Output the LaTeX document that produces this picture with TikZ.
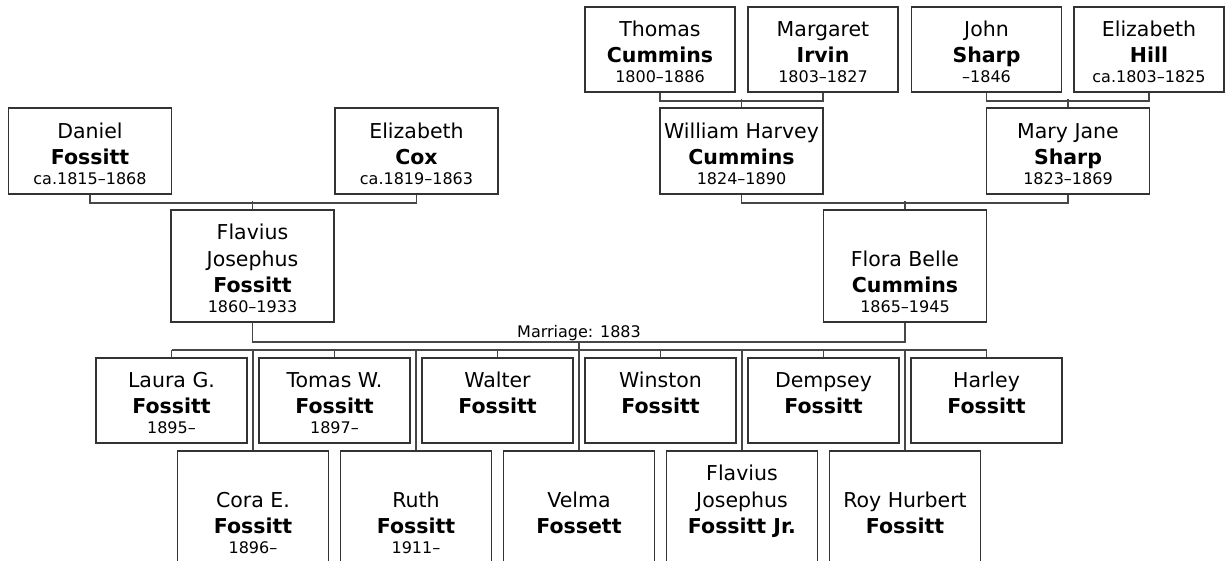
\documentclass[tikz,border=0pt]{standalone}
\usepackage{fontspec}
\setmainfont{DejaVu Sans}
\usetikzlibrary{positioning}

\newcommand{\yrs}[1]{{\fontsize{16}{20}\selectfont\strut#1}}

\begin{document}
\begin{tikzpicture}[
    x=1pt, y=-1pt,
    person/.style={rectangle, draw=black!80, line width=1.9pt, inner sep=0pt},
    ggparent/.style={person, minimum width=150, minimum height=85},
    gparent/.style={person, minimum width=163, minimum height=86},
    parent/.style={person, minimum width=163, minimum height=112},
    child/.style={person, minimum width=151, minimum height=85},
    childlow/.style={person, minimum width=151, minimum height=112},
    who/.style={anchor=south, yshift=4pt, align=center, inner sep=0pt, font=\fontsize{20.5}{26.5}\selectfont},
    link/.style={draw=black!72, line width=1.8pt},
    note/.style={font=\fontsize{16}{20}\selectfont, inner sep=0pt},
]
\useasboundingbox (0,0) rectangle (1227,561);
\fill[white] (0,0) rectangle (1227,561);
\clip (0,0) rectangle (1227,561);

% Great-grandparents
\node[ggparent, label={[who]south:Thomas\\\textbf{Cummins}\\[-6.5pt]\yrs{1800–1886}}] (tcummins) at (660, 49.5) {};
\node[ggparent, label={[who]south:Margaret\\\textbf{Irvin}\\[-6.5pt]\yrs{1803–1827}}] (mirvin) at (823, 49.5) {};
\node[ggparent, label={[who]south:John\\\textbf{Sharp}\\[-6.5pt]\yrs{–1846}}] (jsharp) at (986.5, 49.5) {};
\node[ggparent, label={[who]south:Elizabeth\\\textbf{Hill}\\[-6.5pt]\yrs{ca.1803–1825}}] (ehill) at (1149, 49.5) {};

% Grandparents
\node[gparent, label={[who]south:Daniel\\\textbf{Fossitt}\\[-6.5pt]\yrs{ca.1815–1868}}] (dfossitt) at (90, 151) {};
\node[gparent, label={[who]south:Elizabeth\\\textbf{Cox}\\[-6.5pt]\yrs{ca.1819–1863}}] (ecox) at (416.5, 151) {};
\node[gparent, label={[who]south:William Harvey\\\textbf{Cummins}\\[-6.5pt]\yrs{1824–1890}}] (wcummins) at (741.5, 151) {};
\node[gparent, label={[who]south:Mary Jane\\\textbf{Sharp}\\[-6.5pt]\yrs{1823–1869}}] (msharp) at (1068, 151) {};

% Parents
\node[parent, label={[who]south:Flavius\\Josephus\\\textbf{Fossitt}\\[-6.5pt]\yrs{1860–1933}}] (flavius) at (252.5, 266) {};
\node[parent, label={[who]south:Flora Belle\\\textbf{Cummins}\\[-6.5pt]\yrs{1865–1945}}] (flora) at (905, 266) {};

% Children, upper row
\node[child, label={[who]south:Laura G.\\\textbf{Fossitt}\\[-6.5pt]\yrs{1895–}}] (laura) at (171.5, 400.5) {};
\node[child, label={[who]south:Tomas W.\\\textbf{Fossitt}\\[-6.5pt]\yrs{1897–}}] (tomas) at (334.5, 400.5) {};
\node[child, label={[who]south:Walter\\\textbf{Fossitt}\\[-6.5pt]\yrs{}}] (walter) at (497.5, 400.5) {};
\node[child, label={[who]south:Winston\\\textbf{Fossitt}\\[-6.5pt]\yrs{}}] (winston) at (660.5, 400.5) {};
\node[child, label={[who]south:Dempsey\\\textbf{Fossitt}\\[-6.5pt]\yrs{}}] (dempsey) at (823.5, 400.5) {};
\node[child, label={[who]south:Harley\\\textbf{Fossitt}\\[-6.5pt]\yrs{}}] (harley) at (986.5, 400.5) {};

% Children, lower row
\node[childlow, label={[who]south:Cora E.\\\textbf{Fossitt}\\[-6.5pt]\yrs{1896–}}] (cora) at (253, 507) {};
\node[childlow, label={[who]south:Ruth\\\textbf{Fossitt}\\[-6.5pt]\yrs{1911–}}] (ruth) at (416, 507) {};
\node[childlow, label={[who]south:Velma\\\textbf{Fossett}\\[-6.5pt]\yrs{}}] (velma) at (579, 507) {};
\node[childlow, label={[who]south:Flavius\\Josephus\\\textbf{Fossitt Jr.}\\[-6.5pt]\yrs{}}] (flaviusjr) at (742, 507) {};
\node[childlow, label={[who]south:Roy Hurbert\\\textbf{Fossitt}\\[-6.5pt]\yrs{}}] (roy) at (905, 507) {};

% Parent links
\draw[link] (tcummins.south) -- ++(0,8) -| (mirvin.south);
\draw[link] (wcummins.north) -- ++(0,-8);
\draw[link] (jsharp.south) -- ++(0,8) -| (ehill.south);
\draw[link] (msharp.north) -- ++(0,-8);
\draw[link] (dfossitt.south) -- ++(0,8) -| (ecox.south);
\draw[link] (flavius.north) -- ++(0,-8);
\draw[link] (wcummins.south) -- ++(0,8) -| (msharp.south);
\draw[link] (flora.north) -- ++(0,-8);

% Marriage and children
\coordinate (wed) at (579, 342);
\coordinate (bus) at (579, 350);
\draw[link] (flavius.south) |- (wed) -| (flora.south);
\draw[link] (wed) -- (bus);
\node[note, above=1pt of wed] (wedlabel) {Marriage: 1883};
\draw[link] (laura.north |- bus) -- (harley.north |- bus);
\foreach \kid in {laura, tomas, walter, winston, dempsey, harley, cora, ruth, velma, flaviusjr, roy}
  \draw[link] (\kid.north |- bus) -- (\kid.north);

\end{tikzpicture}
\end{document}
